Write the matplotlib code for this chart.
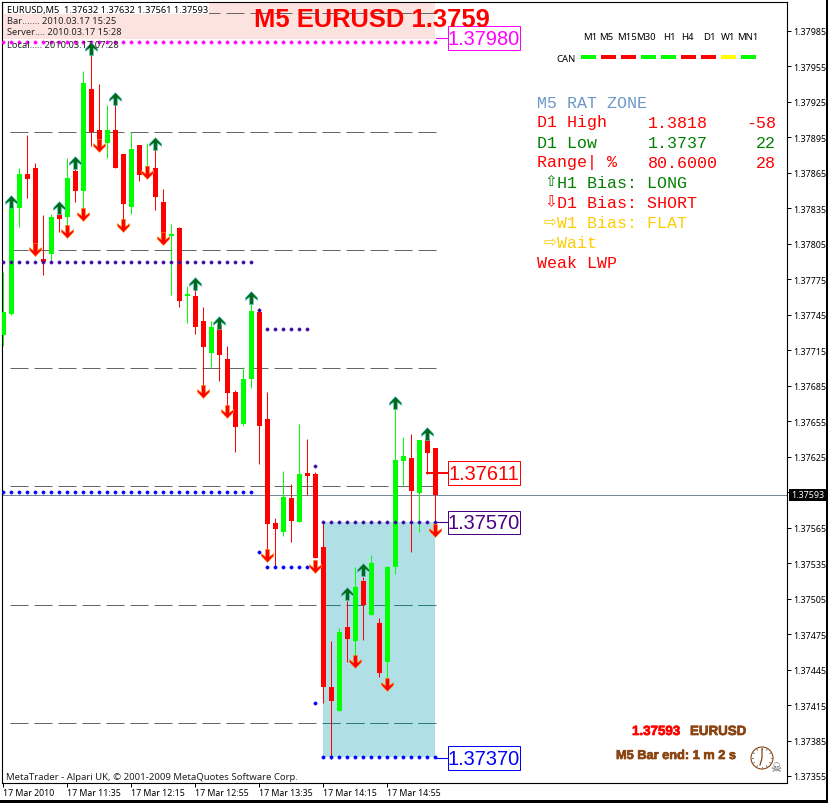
import matplotlib
matplotlib.use("Agg")
import matplotlib.pyplot as plt
import matplotlib.patheffects as pe
from matplotlib.lines import Line2D
from matplotlib.patches import Circle, Rectangle
from matplotlib.path import Path
from matplotlib.transforms import IdentityTransform
import numpy as np

W, H = 829, 804

opens = [1.37728, 1.37746, 1.37835, 1.37864, 1.37869, 1.37792, 1.37796, 1.37829, 1.37828, 1.37867, 1.37850,
         1.37936, 1.37901, 1.37890, 1.37901, 1.37881, 1.37836, 1.37889, 1.37870, 1.37869, 1.37840, 1.37812,
         1.37818, 1.37761, 1.37761, 1.37740, 1.37713, 1.37736, 1.37708, 1.37680, 1.37653, 1.37691, 1.37747,
         1.37657, 1.37569, 1.37561, 1.37590, 1.37570, 1.37611, 1.37610, 1.37549, 1.37430, 1.37410, 1.37481,
         1.37469, 1.37520, 1.37491, 1.37484, 1.37451, 1.37532, 1.37621, 1.37624, 1.37594, 1.37640, 1.37632]
highs = [1.37781, 1.37839, 1.37869, 1.37897, 1.37873, 1.37829, 1.37830, 1.37839, 1.37878, 1.37877, 1.37951,
         1.37971, 1.37940, 1.37922, 1.37927, 1.37881, 1.37900, 1.37889, 1.37890, 1.37889, 1.37851, 1.37822,
         1.37819, 1.37769, 1.37771, 1.37752, 1.37740, 1.37741, 1.37719, 1.37681, 1.37701, 1.37756, 1.37751,
         1.37680, 1.37573, 1.37613, 1.37602, 1.37653, 1.37640, 1.37612, 1.37571, 1.37469, 1.37480, 1.37503,
         1.37532, 1.37523, 1.37542, 1.37489, 1.37533, 1.37665, 1.37642, 1.37644, 1.37639, 1.37648, 1.37632]
lows = [1.37719, 1.37745, 1.37819, 1.37844, 1.37795, 1.37779, 1.37790, 1.37815, 1.37818, 1.37840, 1.37834,
        1.37888, 1.37888, 1.37878, 1.37869, 1.37822, 1.37830, 1.37858, 1.37868, 1.37834, 1.37805, 1.37762,
        1.37752, 1.37738, 1.37729, 1.37682, 1.37701, 1.37689, 1.37665, 1.37629, 1.37651, 1.37683, 1.37619,
        1.37547, 1.37532, 1.37558, 1.37553, 1.37570, 1.37593, 1.37539, 1.37417, 1.37369, 1.37410, 1.37451,
        1.37456, 1.37470, 1.37491, 1.37439, 1.37437, 1.37526, 1.37601, 1.37544, 1.37561, 1.37610, 1.37561]
closes = [1.37747, 1.37837, 1.37864, 1.37860, 1.37796, 1.37790, 1.37828, 1.37826, 1.37861, 1.37850, 1.37941,
          1.37900, 1.37888, 1.37901, 1.37869, 1.37839, 1.37885, 1.37863, 1.37871, 1.37845, 1.37805, 1.37813,
          1.37757, 1.37763, 1.37735, 1.37718, 1.37735, 1.37711, 1.37679, 1.37650, 1.37691, 1.37748, 1.37651,
          1.37568, 1.37564, 1.37591, 1.37571, 1.37610, 1.37609, 1.37539, 1.37430, 1.37418, 1.37477, 1.37471,
          1.37515, 1.37500, 1.37535, 1.37442, 1.37532, 1.37622, 1.37626, 1.37596, 1.37639, 1.37628, 1.37593]

up_bars = [1, 7, 9, 11, 14, 19, 24, 27, 31, 43, 45, 49, 53]
up_tips = [1.37846, 1.37841, 1.37879, 1.37976, 1.37933, 1.37895, 1.37777, 1.37744, 1.37765, 1.37515, 1.37535,
           1.37676, 1.37650]
down_bars = [4, 8, 10, 12, 15, 18, 20, 25, 28, 33, 39, 44, 48, 54]
down_tips = [1.37795, 1.37810, 1.37824, 1.37883, 1.37815, 1.37860, 1.37804, 1.37675, 1.37658, 1.37536, 1.37527,
             1.37446, 1.37427, 1.37557]

grid_levels = [1.380, 1.379, 1.378, 1.377, 1.376, 1.375, 1.374]
price_ticks = [1.37985, 1.37955, 1.37925, 1.37895, 1.37865, 1.37835, 1.37805, 1.37775, 1.37745, 1.37715, 1.37685,
               1.37655, 1.37625, 1.37595, 1.37565, 1.37535, 1.37505, 1.37475, 1.37445, 1.37415, 1.37385, 1.37355]
time_bars = [0, 8, 16, 24, 32, 40, 48]
time_labels = ["17 Mar 2010", "17 Mar 11:35", "17 Mar 12:15", "17 Mar 12:55", "17 Mar 13:35", "17 Mar 14:15",
               "17 Mar 14:55"]

bid = 1.37593
zone_high = 1.37570
zone_low = 1.37371
sup_top = 1.37976
# dotted levels: price, first bar, last bar
indigo_levels = [(1.37790, 0, 31), (1.37733, 33, 38), (1.37749, 32, 32), (1.37617, 39, 39), (1.37570, 40, 54)]
blue_levels = [(1.37595, 0, 31), (1.37532, 33, 38), (1.37544, 32, 32), (1.37417, 39, 39), (1.37371, 40, 54)]
magenta_levels = [(1.37976, 0, 54)]

frames = ["M1", "M5", "M15", "M30", "H1", "H4", "D1", "W1", "MN1"]
frame_x = [590, 606, 627, 646, 669, 687, 709, 728, 748]
can_colors = ["#00ff00", "#ff0000", "#ff0000", "#00ff00", "#00ff00", "#ff0000", "#ff0000", "#ffff00", "#00ff00"]

plt.rcParams["lines.scale_dashes"] = False
ui_font = ["Noto Sans", "DejaVu Sans"]
px = IdentityTransform()


def ftext(x, y, s, **kw):
    # x, y in image pixels, y from the top
    kw.setdefault("va", "center")
    return fig.text(x / W, 1 - y / H, s, **kw)


def box(x0, y0, x1, y1, **kw):
    fig.add_artist(Rectangle((x0, H - y1), x1 - x0, y1 - y0, transform=px, **kw))


def arrow_marker(sign):
    verts = np.array([(0, 0), (0.47, -0.5), (0.47, -0.68), (0.15, -0.44), (0.15, -1), (-0.15, -1),
                      (-0.15, -0.44), (-0.47, -0.68), (-0.47, -0.5), (0, 0)])
    verts[:, 1] *= sign
    return Path(verts, closed=True)


fig = plt.figure(figsize=(W / 100, H / 100), dpi=100, facecolor="white")
ax = fig.add_axes([2.5 / W, 1 - 783.5 / H, 785 / W, 781 / H])
ax.set_xlim(-0.125, 98)
ax.set_ylim(1.37985 - 751.5 * 8.4564e-6, 1.37985 + 29.5 * 8.4564e-6)
for s in ax.spines.values():
    s.set_linewidth(0.8)

# background zones
ax.add_patch(Rectangle((-0.125, sup_top + 0.00002), 54.125, 0.0004, fc="#fde3e0", ec="none", zorder=1))
zone = Rectangle((40, zone_low), 14, zone_high - zone_low, fc="#b0dfe6", ec="none", zorder=1)
ax.add_patch(zone)

# dashed round number lines
for lvl in grid_levels:
    ax.plot([0.81, 54.1], [lvl, lvl], color="#666666", lw=0.72, dashes=(12.96, 4.32), dash_capstyle="butt",
            zorder=2)
    teal, = ax.plot([0.81, 54.1], [lvl, lvl], color="#2c7b80", lw=0.72, dashes=(12.96, 4.32),
                    dash_capstyle="butt", zorder=2.1)
    teal.set_clip_path(zone)

ax.axhline(bid, color="#778899", lw=0.72, zorder=2.2)

# candles
bars = np.arange(len(opens))
colors = ["#00ff00" if c >= o else "#ff0000" for o, c in zip(opens, closes)]
ax.vlines(bars, lows, highs, colors=colors, lw=0.72, zorder=3)
ax.bar(bars, np.abs(np.array(closes) - np.array(opens)), bottom=np.minimum(opens, closes), width=0.625,
       color=colors, lw=0, zorder=3)

# dotted levels
for levels, col, edge in [(indigo_levels, "#4b0082", "#3030e0"), (blue_levels, "#0000ff", "#0000ff"),
                          (magenta_levels, "#ff00ff", "#ff00ff")]:
    for price, first, last in levels:
        xs = np.arange(first, last + 1)
        ax.plot(xs, [price] * len(xs), ls="none", marker="o", ms=2.4, mfc=col, mec=edge, mew=0.3, zorder=4)

# signal arrows
ax.plot(up_bars, up_tips, ls="none", marker=arrow_marker(1), ms=19, mfc="#006a1a", mec="#6fd0d8", mew=0.4, zorder=5)
ax.plot(down_bars, down_tips, ls="none", marker=arrow_marker(-1), ms=19, mfc="#ff0000", mec="#ff9a20", mew=0.4,
        zorder=5)

# axes, the bid tag covers the label next to it
ax.yaxis.tick_right()
ax.set_yticks(price_ticks)
ax.set_yticklabels(["" if p == 1.37595 else f"{p:.5f}" for p in price_ticks], fontsize=6.4, family=ui_font)
ax.set_xticks(time_bars)
ax.set_xticklabels(time_labels, fontsize=6.3, family=ui_font, ha="left")
ax.tick_params(axis="y", length=2.9, width=0.72, pad=1.5)
ax.tick_params(axis="x", length=2.9, width=0.72, pad=1.0)

# price tags on the right of the zone
tags = [("1.37980", "#ff00ff", 27, 51, 39, 436, 0.8),
        ("1.37611", "#ff0000", 462, 486, 474, 427, 1.4),
        ("1.37570", "#4b0082", 512, 535, 523, 436, 0.8),
        ("1.37370", "#0000ff", 747, 771, 759, 436, 0.8)]
for label, col, y0, y1, yc, x_from, lead_w in tags:
    box(447.5, y0, 519.5, y1, fc="white", ec=col, lw=0.72, zorder=6)
    fig.add_artist(Line2D([x_from, 447], [H - yc, H - yc], color=col, lw=lead_w, transform=px))
    ftext(483.5, yc + 0.5, label, color=col, fontsize=14.4, family="Liberation Sans", ha="center", zorder=7)

# bid tag on the price axis
box(789, 490, 826, 502, fc="black", ec="none", zorder=6)
ftext(807.5, 496, f"{bid:.5f}", color="white", fontsize=6.4, family=ui_font, ha="center", zorder=7)

# header text
box(4, 4, 209, 15, fc="white", ec="none", zorder=6)
ftext(7, 10.5, "EURUSD,M5  1.37632 1.37632 1.37561 1.37593", color="black", fontsize=6.65, family=ui_font, zorder=7)
ftext(7, 21, "Bar....... 2010.03.17 15:25", color="#222222", fontsize=6.7, family=ui_font)
ftext(7, 32.5, "Server.... 2010.03.17 15:28", color="#222222", fontsize=6.7, family=ui_font)
ftext(7, 45, "Local..... 2010.03.17 07:28", color="#222222", fontsize=6.7, family=ui_font)
ftext(254, 27, "M5 EURUSD 1.3759", color="#ff0000", fontsize=18.4, family="Liberation Sans", weight="bold", va="baseline",
      zorder=7)
ftext(6, 778, "MetaTrader - Alpari UK, \u00a9 2001-2009 MetaQuotes Software Corp.", color="#222222", fontsize=6.9,
      family=ui_font)

# timeframe panel
for k, (name, fx, col) in enumerate(zip(frames, frame_x, can_colors)):
    ftext(fx, 37, name, color="black", fontsize=6.9, family=ui_font, ha="center")
    box(581 + 20 * k, 56, 596 + 20 * k, 60, fc=col, ec="none")
ftext(556.5, 59, "CAN", color="black", fontsize=6.9, family=ui_font)

# rat zone panel
mono = "Liberation Mono"
rows = [("M5 RAT ZONE", "", "", "#6d97c9", 103),
        ("D1 High", "1.3818", "-58", "#ff0000", 123),
        ("D1 Low", "1.3737", "22", "#008000", 143),
        ("Range| %", "80.6000", "28", "#ff0000", 163)]
for left, mid, right, col, y in rows:
    ftext(537, y, left, color=col, fontsize=12, family=mono)
    ftext(648, y, mid, color=col, fontsize=12, family=mono)
    ftext(776, y, right, color=col, fontsize=12, family=mono, ha="right")

bias_rows = [("\u21e7", "H1 Bias: LONG", "#008000", 183), ("\u21e9", "D1 Bias: SHORT", "#ff0000", 203),
             ("\u21e8", "W1 Bias: FLAT", "#ffcc00", 223), ("\u21e8", "Wait", "#ffcc00", 243)]
for glyph, label, col, y in bias_rows:
    ftext(544, y - 1, glyph, color=col, fontsize=11, family="DejaVu Sans")
    ftext(557, y, label, color=col, fontsize=12, family=mono)
ftext(537, 263, "Weak LWP", color="#ff0000", fontsize=12, family=mono)

# bar countdown
brown = "#8b4513"
fat = [pe.withStroke(linewidth=0.5, foreground=brown)]
ftext(632, 733, f"{bid:.5f}", color="#ff0000", fontsize=9.6, family="Liberation Sans", weight="bold",
      path_effects=[pe.withStroke(linewidth=0.5, foreground="#ff0000")])
ftext(690, 733, "EURUSD", color=brown, fontsize=9.6, family="Liberation Sans", weight="bold", path_effects=fat)
ftext(616, 757, "M5 Bar end: 1 m 2 s", color=brown, fontsize=9.2, family="Liberation Sans", weight="bold",
      path_effects=fat)
fig.add_artist(Circle((762, H - 759), 11, transform=px, fc="white", ec=brown, lw=0.8))
for deg in range(0, 360, 30):
    a = np.deg2rad(deg)
    fig.add_artist(Line2D([762 + 9 * np.cos(a), 762 + 10 * np.cos(a)], [H - 759 + 9 * np.sin(a), H - 759 + 10 * np.sin(a)],
                          color="#777777", lw=0.7, transform=px))
fig.add_artist(Line2D([760, 762, 762], [H - 766, H - 759, H - 750], color=brown, lw=0.9, transform=px))
ftext(776, 769, "\u2620", color="#606060", fontsize=9, family="DejaVu Sans", ha="center")

# window frame
box(826, 0, 829, 804, fc="black", ec="none", zorder=8)
box(0, 801, 829, 804, fc="black", ec="none", zorder=8)

fig.savefig("out.png", dpi=100)
